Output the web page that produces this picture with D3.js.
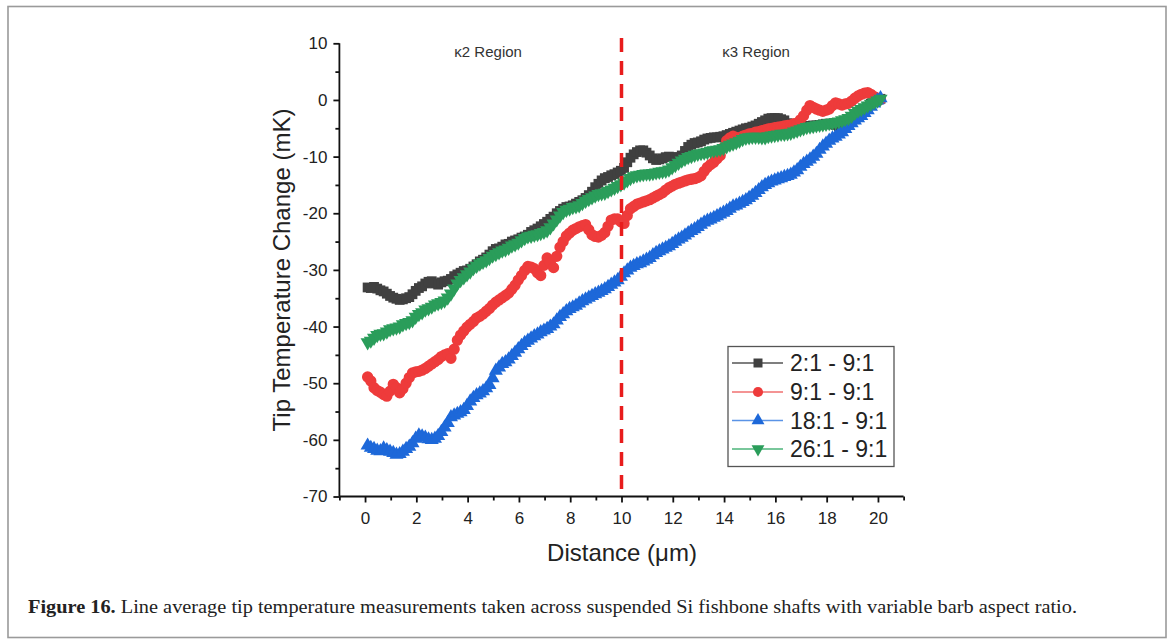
<!DOCTYPE html>
<html>
<head>
<meta charset="utf-8">
<script src="https://cdn.jsdelivr.net/npm/d3@7"></script>
<style>
  html, body { margin: 0; padding: 0; background: #fff; }
  svg { display: block; }
</style>
</head>
<body>
<svg id="chart" width="1171" height="639"></svg>
<script>
// ---------------- DATA ----------------
const distance = [
  0.1,0.225,0.35,0.475,0.6,0.725,0.85,0.975, 1.1,1.225,1.35,1.475,1.6,1.725,1.85,1.975,
  2.1,2.225,2.35,2.475,2.6,2.725,2.85,2.975, 3.1,3.225,3.35,3.475,3.6,3.725,3.85,3.975,
  4.1,4.225,4.35,4.475,4.6,4.725,4.85,4.975, 5.1,5.225,5.35,5.475,5.6,5.725,5.85,5.975,
  6.1,6.225,6.35,6.475,6.6,6.725,6.85,6.975, 7.1,7.225,7.35,7.475,7.6,7.725,7.85,7.975,
  8.1,8.225,8.35,8.475,8.6,8.725,8.85,8.975, 9.1,9.225,9.35,9.475,9.6,9.725,9.85,9.975,
  10.1,10.225,10.35,10.475,10.6,10.725,10.85,10.975, 11.1,11.225,11.35,11.475,11.6,11.725,11.85,11.975,
  12.1,12.225,12.35,12.475,12.6,12.725,12.85,12.975, 13.1,13.225,13.35,13.475,13.6,13.725,13.85,13.975,
  14.1,14.225,14.35,14.475,14.6,14.725,14.85,14.975, 15.1,15.225,15.35,15.475,15.6,15.725,15.85,15.975,
  16.1,16.225,16.35,16.475,16.6,16.725,16.85,16.975, 17.1,17.225,17.35,17.475,17.6,17.725,17.85,17.975,
  18.1,18.225,18.35,18.475,18.6,18.725,18.85,18.975, 19.1,19.225,19.35,19.475,19.6,19.725,19.85,19.975,
  20.1];

const ratio2to1 = [-33.1,-33.2,-33.0,-33.3,-33.6,-33.8,-34.2,-34.6,-34.9,-35.1,-35.3,-35.2,-35.0,-34.8,-34.3,-33.7,
  -33.2,-32.9,-32.4,-32.1,-32.0,-32.4,-32.6,-32.2,-32.0,-31.9,-31.6,-31.1,-30.8,-30.5,-30.2,-30.1,
  -29.8,-29.4,-29.0,-28.5,-28.2,-27.8,-27.3,-26.7,-26.3,-26.2,-25.9,-25.5,-25.4,-25.0,-24.8,-24.6,
  -24.3,-24.1,-23.8,-23.3,-23.0,-22.7,-22.3,-21.9,-21.5,-21.0,-20.6,-20.0,-19.6,-19.2,-18.9,-18.8,
  -18.6,-18.3,-18.0,-17.7,-17.3,-16.8,-16.2,-15.4,-14.8,-14.2,-13.8,-13.6,-13.3,-13.1,-12.8,-12.5,
  -12.0,-11.0,-10.2,-9.6,-9.2,-8.9,-8.9,-9.3,-9.8,-10.3,-10.6,-10.5,-10.3,-10.1,-10.0,-10.1,
  -10.2,-10.1,-9.8,-9.0,-8.3,-7.9,-7.6,-7.5,-7.3,-7.0,-6.8,-6.7,-6.6,-6.6,-6.5,-6.4,
  -6.2,-6.0,-5.8,-5.6,-5.4,-5.2,-5.0,-4.9,-4.7,-4.5,-4.2,-3.9,-3.6,-3.3,-3.2,-3.2,
  -3.2,-3.4,-3.6,-4.1,-4.6,-4.7,-4.8,-4.8,-4.7,-4.6,-4.6,-4.5,-4.5,-4.4,-4.3,-4.2,
  -4.2,-4.3,-4.4,-4.6,-4.7,-4.6,-4.4,-3.9,-3.4,-2.8,-2.3,-1.7,-1.2,-0.7,-0.3,0.0,
  0.2];

const ratio9to1 = [-48.9,-49.6,-50.8,-51.3,-51.6,-52.0,-52.3,-51.4,-50.2,-50.8,-51.7,-51.0,-50.0,-49.0,-48.2,-48.0,
  -47.9,-47.7,-47.4,-47.0,-46.6,-46.2,-45.8,-45.3,-45.0,-44.8,-45.6,-44.0,-42.4,-41.5,-40.8,-40.1,
  -39.6,-39.1,-38.5,-38.2,-37.8,-37.3,-36.8,-36.2,-35.7,-35.3,-34.9,-34.5,-34.1,-33.4,-32.7,-31.8,
  -31.0,-30.1,-29.4,-29.5,-29.8,-30.5,-31.0,-29.2,-27.9,-28.8,-29.6,-27.6,-26.0,-25.0,-24.0,-23.5,
  -23.0,-22.7,-22.4,-22.2,-22.0,-22.9,-23.8,-24.1,-24.2,-23.9,-23.4,-22.3,-21.2,-21.0,-21.0,-21.5,
  -21.8,-20.4,-19.2,-18.8,-18.4,-18.2,-18.0,-17.8,-17.6,-17.3,-17.0,-16.7,-16.4,-15.9,-15.5,-15.2,
  -14.9,-14.7,-14.5,-14.3,-14.1,-14.0,-13.9,-13.7,-13.4,-12.6,-11.9,-11.4,-11.0,-10.4,-9.8,-8.4,
  -7.2,-6.7,-6.4,-6.6,-6.7,-6.4,-6.2,-6.0,-5.9,-5.7,-5.6,-5.4,-5.3,-5.1,-5.0,-4.9,
  -4.8,-4.7,-4.6,-4.5,-4.4,-4.2,-4.1,-3.5,-2.8,-1.8,-1.0,-1.3,-1.6,-1.8,-2.0,-1.8,
  -1.6,-1.0,-0.5,-0.7,-0.9,-0.7,-0.6,-0.2,0.3,0.7,1.0,1.2,1.3,1.0,0.6,0.3,
  0.1];

const ratio18to1 = [-61.0,-61.4,-61.6,-61.9,-62.0,-61.5,-61.8,-62.1,-62.3,-62.6,-62.5,-62.1,-61.6,-61.2,-60.6,-59.8,
  -59.2,-59.4,-59.6,-59.9,-60.0,-59.8,-59.3,-58.6,-57.8,-57.0,-56.0,-55.7,-55.4,-55.1,-54.7,-54.0,
  -53.2,-52.6,-52.1,-51.8,-51.4,-50.9,-50.3,-49.1,-47.8,-47.2,-46.6,-46.3,-45.8,-45.2,-44.6,-44.0,
  -43.4,-42.9,-42.5,-42.1,-41.7,-41.4,-41.0,-40.7,-40.4,-40.0,-39.6,-38.9,-38.3,-37.8,-37.3,-36.9,
  -36.6,-36.3,-35.9,-35.5,-35.2,-34.9,-34.6,-34.3,-34.0,-33.7,-33.4,-33.0,-32.6,-32.2,-31.8,-31.2,
  -30.6,-30.1,-29.6,-29.3,-29.0,-28.8,-28.5,-28.2,-27.9,-27.4,-27.0,-26.7,-26.4,-26.1,-25.8,-25.4,
  -25.0,-24.6,-24.3,-23.9,-23.5,-23.1,-22.8,-22.4,-22.0,-21.6,-21.3,-21.1,-20.8,-20.5,-20.2,-19.9,
  -19.6,-19.2,-18.8,-18.6,-18.3,-18.0,-17.7,-17.3,-16.9,-16.4,-15.9,-15.4,-15.0,-14.7,-14.4,-14.2,
  -14.0,-13.8,-13.6,-13.4,-13.2,-12.8,-12.4,-11.8,-11.3,-10.9,-10.5,-10.0,-9.5,-8.8,-8.2,-7.7,
  -7.2,-6.8,-6.5,-6.1,-5.7,-5.1,-4.6,-4.1,-3.6,-3.2,-2.8,-2.3,-1.8,-1.2,-0.6,-0.1,
  0.3];

const ratio26to1 = [-42.8,-42.5,-42.0,-41.5,-41.3,-41.2,-40.9,-40.5,-40.3,-40.2,-40.0,-39.6,-39.4,-39.2,-38.9,-38.3,
  -37.8,-37.5,-37.0,-36.8,-36.5,-36.1,-35.9,-35.7,-35.4,-34.9,-34.2,-33.3,-32.4,-31.8,-31.3,-30.8,
  -30.3,-29.7,-29.3,-28.9,-28.6,-28.3,-27.9,-27.5,-27.2,-26.9,-26.6,-26.4,-26.1,-25.7,-25.5,-25.2,
  -24.8,-24.4,-24.1,-24.0,-23.8,-23.7,-23.5,-23.3,-23.0,-22.5,-21.8,-21.1,-20.4,-19.8,-19.4,-19.2,
  -18.9,-18.8,-18.6,-18.2,-17.8,-17.5,-17.2,-16.9,-16.6,-16.5,-16.4,-16.1,-15.8,-15.5,-15.2,-14.9,
  -14.6,-14.2,-13.8,-13.5,-13.3,-13.2,-13.1,-13.0,-13.0,-12.9,-12.8,-12.7,-12.6,-12.5,-12.3,-11.9,
  -11.5,-11.1,-10.7,-10.4,-10.1,-9.9,-9.7,-9.5,-9.4,-9.3,-9.2,-9.0,-8.9,-8.8,-8.7,-8.5,
  -8.2,-7.9,-7.7,-7.5,-7.2,-6.9,-6.7,-6.6,-6.5,-6.5,-6.5,-6.6,-6.6,-6.4,-6.3,-6.2,
  -6.1,-6.0,-6.0,-5.9,-5.8,-5.6,-5.4,-5.2,-5.0,-4.8,-4.7,-4.6,-4.5,-4.4,-4.3,-4.2,
  -4.1,-4.0,-3.9,-3.8,-3.6,-3.4,-3.2,-2.8,-2.3,-1.9,-1.6,-1.3,-1.0,-0.7,-0.4,-0.1,
  0.2];

const seriesNames = ["2:1 - 9:1", "9:1 - 9:1", "18:1 - 9:1", "26:1 - 9:1"];
const xTicks = [0,2,4,6,8,10,12,14,16,18,20];
const xMinorTicks = [-1,1,3,5,7,9,11,13,15,17,19,21];
const yTicks = [10,0,-10,-20,-30,-40,-50,-60,-70];
const yMinorTicks = [5,-5,-15,-25,-35,-45,-55,-65];
const regionLabels = ["\u03BA2 Region", "\u03BA3 Region"];
const regionCenters = [4.8, 15.25];
const boundary = 10;
const caption = ["Figure 16.", " Line average tip temperature measurements taken across suspended Si fishbone shafts with variable barb aspect ratio."];

// ---------------- STYLE ----------------
const markerColors = ["#404040", "#ee3b3b", "#1d68d9", "#2a9d5a"];
const lineColors = ["#555555", "#f07070", "#5a93e6", "#4cb57a"];
const symbols = [d3.symbolSquare, d3.symbolCircle, d3.symbolTriangle, d3.symbolTriangle];
const rotations = [0, 0, 0, 180];
const sizes = [96, 100, 86, 86];
const legendSizes = [81, 80, 72, 72];
const seriesValues = [ratio2to1, ratio9to1, ratio18to1, ratio26to1];

const svg = d3.select("#chart");
const SANS = "'Liberation Sans', Arial, sans-serif";

// Figure frame
svg.append("rect").attr("x", 8).attr("y", 6.5).attr("width", 1158).attr("height", 631)
  .attr("fill", "none").attr("stroke", "#9a9a9a").attr("stroke-width", 1.6);

const x = d3.scaleLinear().domain([-1, 21]).range([339.4, 903.6]);
const y = d3.scaleLinear().domain([-70, 10]).range([496.5, 43.3]);

// Series (line + markers)
seriesValues.forEach((vals, i) => {
  const n = Math.min(vals.length, distance.length);
  const pts = d3.range(n).map(k => [distance[k], vals[k]]);
  const g = svg.append("g");
  g.append("path").datum(pts)
    .attr("fill", "none").attr("stroke", lineColors[i]).attr("stroke-width", 1)
    .attr("d", d3.line().x(p => x(p[0])).y(p => y(p[1])));
  g.selectAll("path.m").data(pts).enter().append("path").attr("class", "m")
    .attr("d", d3.symbol().type(symbols[i]).size(sizes[i]))
    .attr("transform", p => `translate(${x(p[0])},${y(p[1])}) rotate(${rotations[i]})`)
    .attr("fill", markerColors[i]);
});

// Dashed boundary
svg.append("line").attr("x1", x(boundary)).attr("x2", x(boundary))
  .attr("y1", 38).attr("y2", y(-70))
  .attr("stroke", "#e81c1c").attr("stroke-width", 3.5).attr("stroke-dasharray", "14,9");

// Axes
const fmt = d => String(d);
const yAxis = d3.axisLeft(y).tickValues(yTicks).tickSize(6).tickPadding(6).tickFormat(fmt);
const yMinor = d3.axisLeft(y).tickValues(yMinorTicks).tickSize(4).tickFormat("");
const xAxis = d3.axisBottom(x).tickValues(xTicks).tickSize(6).tickPadding(9).tickFormat(fmt);
const xMinor = d3.axisBottom(x).tickValues(xMinorTicks).tickSize(4).tickFormat("");

function styleAxis(g) {
  g.select(".domain").attr("stroke", "#111").attr("stroke-width", 1.8);
  g.selectAll(".tick line").attr("stroke", "#111").attr("stroke-width", 1.8);
  g.selectAll(".tick text").attr("fill", "#222").style("font-family", SANS).style("font-size", "17px");
}
svg.append("g").attr("transform", `translate(${x(-1)},0)`).call(yMinor).call(styleAxis)
  .select(".domain").remove();
svg.append("g").attr("transform", `translate(0,${y(-70)})`).call(xMinor).call(styleAxis)
  .select(".domain").remove();
svg.append("g").attr("transform", `translate(${x(-1)},0)`).call(yAxis).call(styleAxis)
  .call(g => g.select(".domain").attr("d", `M0,${y(10)}V${y(-70)}`));
svg.append("g").attr("transform", `translate(0,${y(-70)})`).call(xAxis).call(styleAxis)
  .call(g => g.select(".domain").attr("d", `M${x(-1)},0H${x(21)}`));

// Axis titles
svg.append("text").attr("x", 622).attr("y", 561).attr("text-anchor", "middle")
  .style("font-family", SANS).style("font-size", "24px").attr("fill", "#222")
  .text("Distance (\u03BCm)");
svg.append("text").attr("transform", "translate(290,270) rotate(-90)").attr("text-anchor", "middle")
  .style("font-family", SANS).style("font-size", "24px").attr("fill", "#222")
  .text("Tip Temperature Change (mK)");

// Region labels
regionLabels.forEach((t, i) => {
  svg.append("text").attr("x", x(regionCenters[i])).attr("y", 57).attr("text-anchor", "middle")
    .style("font-family", SANS).style("font-size", "15px").attr("fill", "#333").text(t);
});

// Legend
const lg = svg.append("g");
lg.append("rect").attr("x", 728).attr("y", 346.5).attr("width", 166).attr("height", 120)
  .attr("fill", "#fff").attr("stroke", "#555").attr("stroke-width", 1.3);
const rowY = [363, 392, 420.5, 449];
seriesNames.forEach((name, i) => {
  const r = lg.append("g").attr("transform", `translate(0,${rowY[i]})`);
  r.append("line").attr("x1", 732).attr("x2", 783).attr("y1", 0).attr("y2", 0)
    .attr("stroke", lineColors[i]).attr("stroke-width", 1.3);
  r.append("path").attr("d", d3.symbol().type(symbols[i]).size(legendSizes[i]))
    .attr("transform", `translate(758,0) rotate(${rotations[i]})`).attr("fill", markerColors[i]);
  r.append("text").attr("x", 790).attr("y", 8).style("font-family", SANS).style("font-size", "23px")
    .attr("fill", "#222").text(name);
});

// Caption
const cap = svg.append("text").attr("x", 28).attr("y", 613)
  .style("font-family", "'Liberation Serif', 'Times New Roman', serif").style("font-size", "18px").attr("fill", "#222");
cap.append("tspan").style("font-weight", "bold").text(caption[0]);
cap.append("tspan").text(caption[1]);
cap.attr("textLength", 1049).attr("lengthAdjust", "spacingAndGlyphs");
</script>
</body>
</html>
